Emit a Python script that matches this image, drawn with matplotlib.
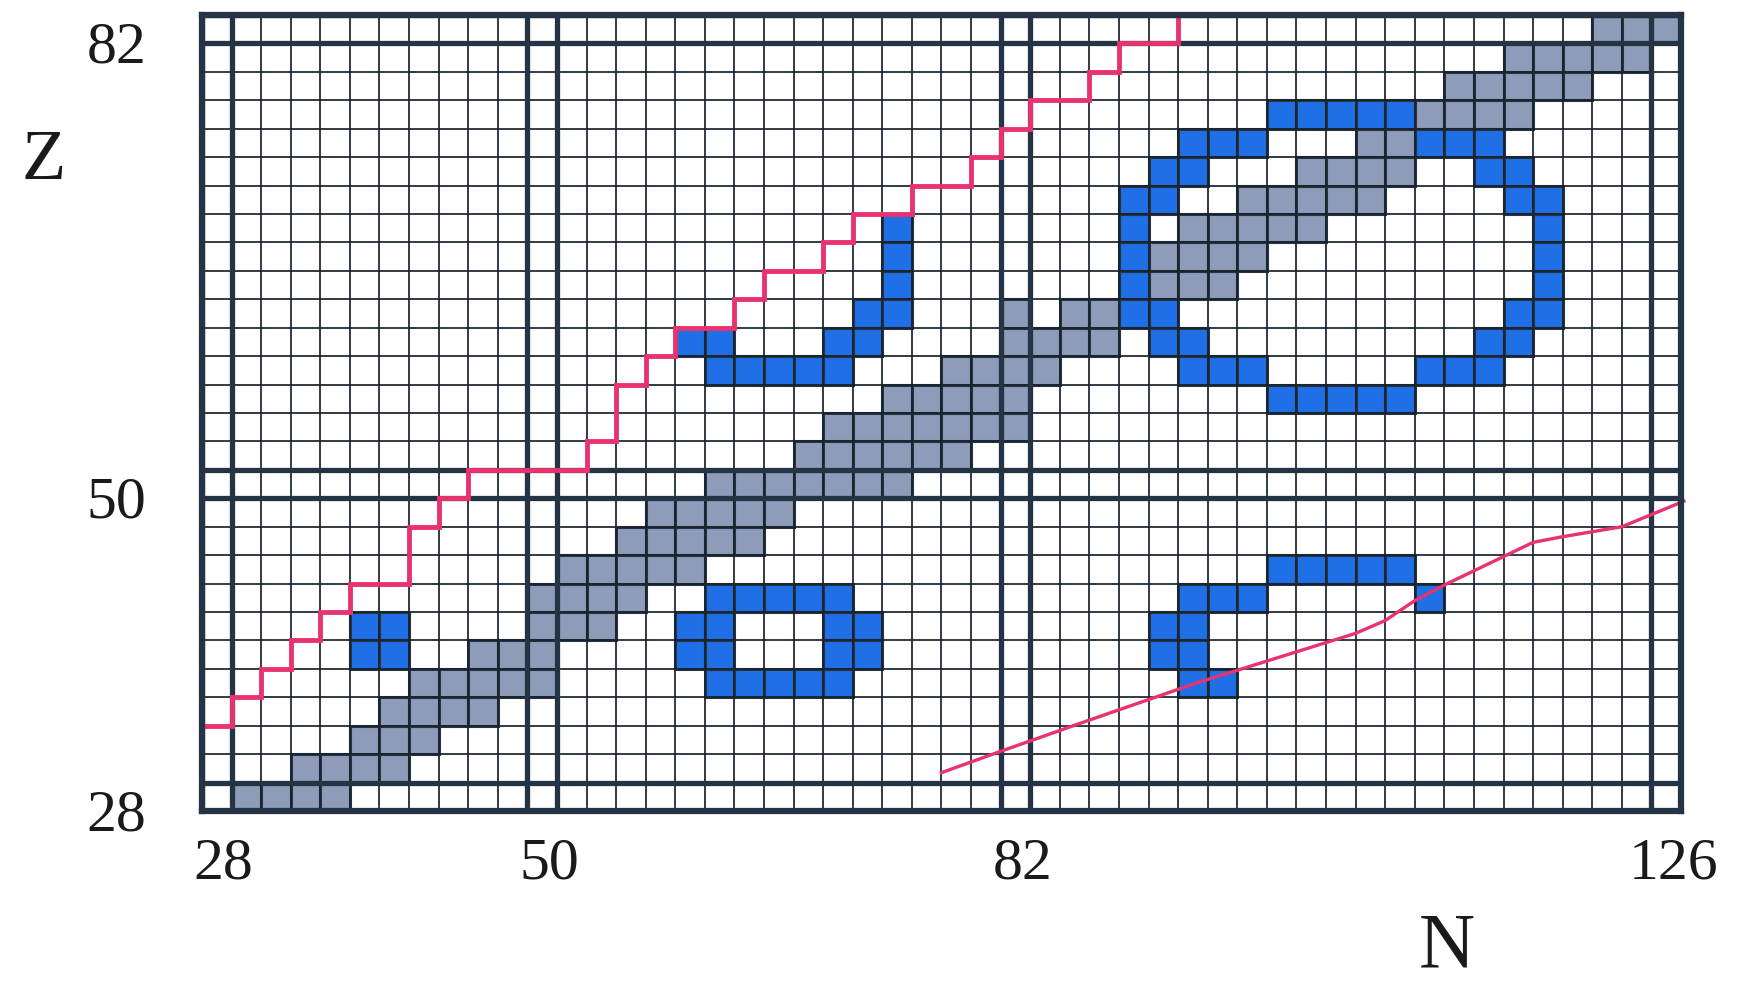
import numpy as np
import matplotlib.pyplot as plt
import matplotlib.transforms as mtransforms
from matplotlib.patches import Rectangle

plt.rcParams['font.family'] = ['Liberation Serif', 'DejaVu Serif']

# Even-even nuclei only: one cell per (N, Z) with N, Z even
N_min, N_max = 28, 126
Z_min, Z_max = 28, 82
magic_N = [28, 50, 82, 126]
magic_Z = [28, 50, 82]

# Stable even-even nuclei (grey): Z -> neutron numbers
stable = {
    28: [30, 32, 34, 36],
    30: [34, 36, 38, 40],
    32: [38, 40, 42],
    34: [40, 42, 44, 46],
    36: [42, 44, 46, 48, 50],
    38: [46, 48, 50],
    40: [50, 52, 54],
    42: [50, 52, 54, 56],
    44: [52, 54, 56, 58, 60],
    46: [56, 58, 60, 62, 64],
    48: [58, 60, 62, 64, 66],
    50: [62, 64, 66, 68, 70, 72, 74],
    52: [68, 70, 72, 74, 76, 78],
    54: [70, 72, 74, 76, 78, 80, 82],
    56: [74, 76, 78, 80, 82],
    58: [78, 80, 82, 84],
    60: [82, 84, 86, 88],
    62: [82, 86, 88],
    64: [92, 94, 96],
    66: [92, 94, 96, 98],
    68: [94, 96, 98, 100, 102],
    70: [98, 100, 102, 104, 106],
    72: [102, 104, 106, 108],
    74: [106, 108],
    76: [110, 112, 114, 116],
    78: [112, 114, 116, 118, 120],
    80: [116, 118, 120, 122, 124],
    82: [122, 124, 126],
}

# Highlighted nuclei (blue): Z -> neutron numbers
highlight = {
    36: [62, 64, 66, 68, 70, 94, 96],
    38: [38, 40, 60, 62, 70, 72, 92, 94],
    40: [38, 40, 60, 62, 70, 72, 92, 94],
    42: [62, 64, 66, 68, 70, 94, 96, 98, 110],
    44: [100, 102, 104, 106, 108],
    56: [100, 102, 104, 106, 108],
    58: [62, 64, 66, 68, 70, 94, 96, 98, 110, 112, 114],
    60: [60, 62, 70, 72, 92, 94, 114, 116],
    62: [72, 74, 90, 92, 116, 118],
    64: [74, 90, 118],
    66: [74, 90, 118],
    68: [74, 90, 118],
    70: [90, 92, 116, 118],
    72: [92, 94, 114, 116],
    74: [94, 96, 98, 110, 112, 114],
    76: [100, 102, 104, 106, 108],
}

# Proton drip line (staircase along cell edges)
pdrip_N = [27, 29, 31, 33, 35, 37, 41, 43, 45, 53, 55, 57, 59, 63, 65, 69, 71,
           75, 79, 81, 83, 87, 89, 93]
pdrip_Z = [33, 35, 37, 39, 41, 43, 47, 49, 51, 53, 57, 59, 61, 63, 65, 67, 69,
           71, 73, 75, 77, 79, 81, 83]

# Neutron line (smooth curve, lower right)
ndrip_N = [77.0, 81.0, 87.0, 94.5, 97.0, 101.0, 105.0, 107.0, 109.0, 111.0,
           113.0, 117.0, 119.0, 123.0, 127.2]
ndrip_Z = [29.7, 31.2, 33.4, 36.1, 36.9, 38.2, 39.5, 40.4, 41.8, 42.9,
           43.9, 45.9, 46.3, 47.0, 48.8]

grey_col = '#8e9cba'
blue_col = '#1f6fe6'
line_col = '#19232e'
bold_col = '#243444'
pink_col = '#e8336f'

fig = plt.figure(figsize=(17.38, 9.82), dpi=100)
ax = fig.add_axes([0.1162, 0.1741, 0.9672 - 0.1162, 0.9847 - 0.1741])

def draw_cells(cells, color):
    for z, ns in cells.items():
        for n in ns:
            ax.add_patch(Rectangle((n - 1, z - 1), 2, 2, facecolor=color,
                                   edgecolor=bold_col, linewidth=2.2, zorder=2))

draw_cells(stable, grey_col)
draw_cells(highlight, blue_col)

# thin grid, one line per cell edge
for x in np.arange(N_min + 1, N_max, 2):
    ax.axvline(x, color=line_col, lw=1.25, zorder=3)
for y in np.arange(Z_min + 1, Z_max, 2):
    ax.axhline(y, color=line_col, lw=1.25, zorder=3)

# bold lines around magic numbers
for n in magic_N:
    for x in (n - 1, n + 1):
        ax.axvline(x, color=bold_col, lw=3.8, zorder=4)
for z in magic_Z:
    for y in (z - 1, z + 1):
        ax.axhline(y, color=bold_col, lw=3.8, zorder=4)

ax.step(pdrip_N, pdrip_Z, where='post', color=pink_col, lw=3.5, zorder=5,
        solid_joinstyle='miter')
ax.plot(ndrip_N, ndrip_Z, color=pink_col, lw=2.4, zorder=5, clip_on=False)

ax.set_xlim(N_min - 1, N_max + 1)
ax.set_ylim(Z_min - 1, Z_max + 1)
for s in ax.spines.values():
    s.set_linewidth(4.5)
    s.set_color(bold_col)
    s.set_zorder(6)

ax.set_xticks(magic_N)
ax.set_xticklabels([str(v) for v in magic_N])
ax.set_yticks(magic_Z)
ax.set_yticklabels([str(v) for v in magic_Z])
ax.tick_params(axis='both', length=0, labelsize=43, colors='#1a1a1a')
ax.tick_params(axis='x', pad=19)
ax.tick_params(axis='y', pad=40)

dy = mtransforms.ScaledTranslation(0, -0.13, fig.dpi_scale_trans)
for lab in ax.get_yticklabels():
    lab.set_transform(lab.get_transform() + dy)
dx = mtransforms.ScaledTranslation(0.07, 0, fig.dpi_scale_trans)
for lab in ax.get_xticklabels():
    lab.set_transform(lab.get_transform() + dx)

fig.text(0.0253, 0.836, 'Z', fontsize=52, ha='center', va='center', color='#1a1a1a')
fig.text(0.8326, 0.0346, 'N', fontsize=56, ha='center', va='center', color='#1a1a1a')

fig.savefig('out.png', dpi=100)
